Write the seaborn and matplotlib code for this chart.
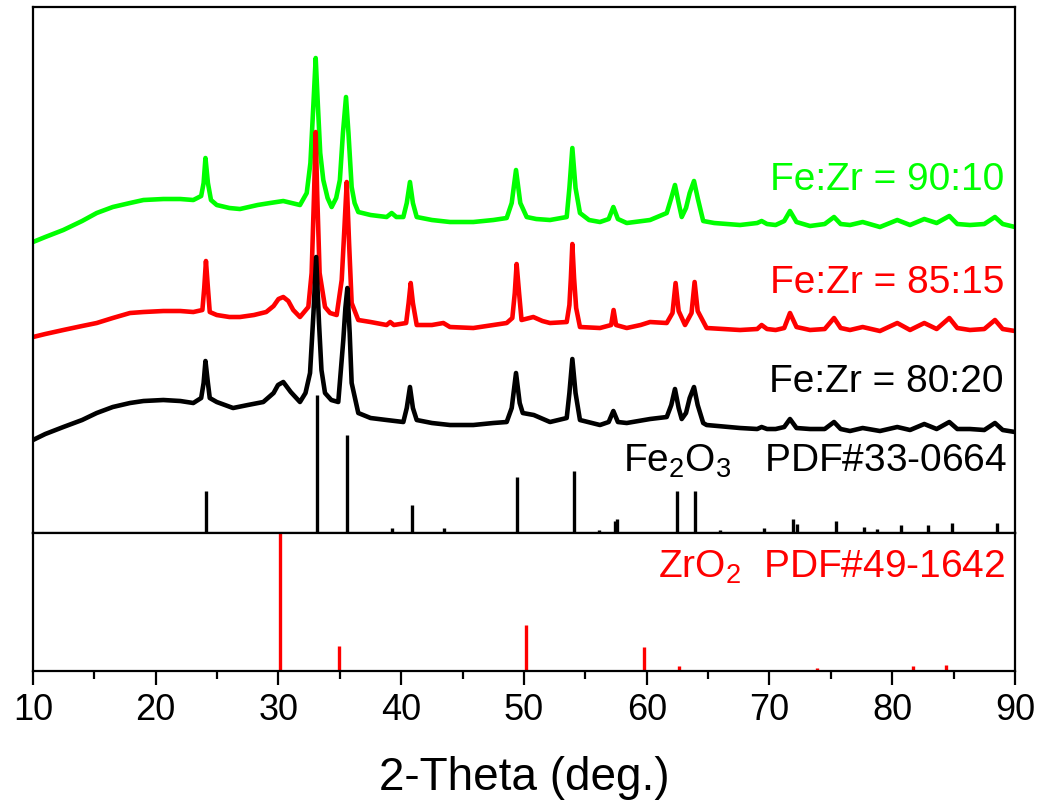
import numpy as np
import pandas as pd
import matplotlib
matplotlib.use("Agg")
import matplotlib.pyplot as plt
import seaborn as sns

# Traces (2-theta in deg., intensity in a.u., offsets included)
tt_90 = [10.0, 11.0, 12.47, 14.0, 15.19, 16.5, 17.9, 19.0, 20.62, 22.0, 23.06, 23.7, 23.9,
         24.05, 24.25, 24.5, 24.97, 26.0, 26.86, 28.3, 29.31, 30.39, 31.75, 32.3, 32.6,
         32.85, 33.03, 33.2, 33.4, 33.65, 34.0, 34.33, 34.7, 35.0, 35.25, 35.5, 35.7,
         35.96, 36.2, 36.5, 37.5, 38.81, 39.22, 39.6, 40.17, 40.45, 40.71, 40.95, 41.26,
         42.5, 43.97, 45.87, 47.5, 48.59, 49.0, 49.35, 49.7, 50.22, 51.0, 52.12, 53.48,
         53.7, 53.94, 54.2, 54.56, 55.3, 56.19, 56.9, 57.28, 57.65, 58.37, 60.27, 61.63,
         62.0, 62.3, 62.6, 62.85, 63.2, 63.5, 63.85, 64.15, 64.6, 65.5, 67.6, 69.0, 69.36,
         69.8, 70.5, 71.2, 71.67, 72.2, 73.3, 74.5, 75.26, 75.8, 76.56, 77.59, 79.0, 80.41,
         81.45, 82.61, 83.62, 84.65, 85.3, 86.33, 87.5, 88.37, 89.0, 90.0]
int_90 = [291, 296, 303, 312, 320, 326, 330, 333, 334, 334, 333, 337, 350,
          375, 350, 333, 328, 325, 324, 328, 330, 332, 328, 340, 370,
          430, 475, 430, 380, 353, 335, 326, 335, 353, 400, 436, 400,
          346, 330, 321, 318, 316, 320, 316, 316, 330, 351, 330, 316,
          313, 311, 311, 313, 315, 330, 363, 330, 316, 314, 313, 316,
          345, 385, 345, 320, 313, 311, 314, 326, 314, 310, 313, 320,
          335, 348, 330, 316, 325, 340, 352, 335, 312, 310, 308, 310, 312,
          309, 308, 312, 322, 311, 307, 309, 316, 309, 308, 311, 306, 313,
          308, 314, 310, 317, 309, 308, 309, 316, 309, 306]

tt_85 = [10.0, 11.0, 12.47, 14.0, 15.19, 16.5, 17.9, 19.0, 20.62, 22.0, 23.06, 23.8, 23.95,
         24.09, 24.25, 24.4, 24.97, 26.0, 26.86, 28.0, 29.0, 29.6, 30.0, 30.39, 30.8, 31.2,
         31.75, 32.43, 32.7, 32.9, 33.03, 33.15, 33.35, 33.79, 34.2, 34.74, 35.15, 35.35,
         35.56, 35.75, 35.96, 36.5, 37.5, 38.81, 39.1, 39.4, 40.4, 40.6, 40.77, 40.95,
         41.26, 42.5, 43.43, 43.97, 45.87, 47.5, 48.59, 49.05, 49.25, 49.4, 49.6, 49.8,
         50.76, 51.5, 52.12, 53.48, 53.7, 53.82, 53.94, 54.08, 54.25, 54.56, 56.19, 57.1,
         57.3, 57.5, 58.37, 59.5, 60.27, 61.63, 62.1, 62.35, 62.6, 63.12, 63.65, 63.9,
         64.15, 64.88, 67.6, 69.0, 69.36, 69.8, 70.5, 71.2, 71.67, 72.2, 73.3, 74.5, 75.26,
         75.8, 76.56, 77.59, 79.0, 80.41, 81.45, 82.61, 83.62, 84.65, 85.3, 86.33, 87.5,
         88.37, 89.0, 90.0]
int_85 = [196, 199, 203, 207, 210, 215, 220, 221, 222, 222, 221, 223, 245,
          272, 245, 221, 218, 216, 216, 218, 221, 227, 234, 236, 232, 223,
          216, 226, 260, 340, 401, 340, 260, 226, 220, 218, 253, 300,
          351, 290, 230, 213, 211, 208, 211, 208, 210, 230, 250, 230,
          208, 208, 210, 206, 205, 208, 210, 215, 240, 269, 240, 213,
          216, 212, 210, 211, 228, 255, 289, 255, 225, 206, 205, 208,
          223, 208, 205, 208, 211, 210, 220, 250, 222, 208, 220, 251,
          222, 205, 203, 204, 208, 204, 203, 205, 220, 206, 203, 204, 215,
          205, 203, 206, 202, 210, 203, 210, 204, 215, 205, 203, 204,
          213, 204, 202]

tt_80 = [10.0, 11.0, 12.47, 14.0, 15.19, 16.5, 17.9, 19.0, 20.62, 22.0, 23.06, 23.7, 23.9,
         24.05, 24.25, 24.4, 24.97, 26.3, 27.5, 28.76, 29.6, 29.96, 30.39, 31.0, 31.75,
         32.2, 32.57, 32.85, 33.07, 33.3, 33.5, 33.79, 34.3, 34.87, 35.28, 35.45, 35.61,
         35.8, 35.96, 36.5, 37.5, 38.81, 40.17, 40.45, 40.71, 40.95, 41.26, 42.5, 43.97,
         45.87, 47.5, 48.59, 49.0, 49.35, 49.65, 49.9, 50.8, 52.12, 53.48, 53.7, 53.94,
         54.2, 54.56, 56.19, 56.9, 57.28, 57.65, 58.37, 60.27, 61.63, 62.0, 62.3, 62.6,
         62.85, 63.2, 63.5, 63.85, 64.15, 64.6, 64.88, 67.6, 69.0, 69.36, 69.8, 70.5, 71.2,
         71.67, 72.2, 73.3, 74.5, 75.26, 75.8, 76.56, 77.59, 79.0, 80.41, 81.45, 82.61,
         83.62, 84.65, 85.3, 86.33, 87.5, 88.37, 89.0, 90.0]
int_80 = [93, 99, 106, 113, 120, 126, 130, 132, 133, 132, 130, 135, 150,
          172, 150, 135, 131, 125, 128, 131, 140, 148, 151, 141, 131,
          140, 160, 220, 276, 210, 163, 140, 133, 131, 193, 225, 245,
          200, 150, 120, 115, 113, 111, 125, 146, 125, 113, 110, 108,
          108, 110, 111, 125, 160, 130, 120, 118, 111, 115, 140, 174,
          140, 113, 108, 111, 122, 111, 110, 114, 116, 128, 144, 125,
          114, 120, 135, 146, 128, 110, 108, 105, 104, 106, 104, 104, 106,
          114, 105, 104, 104, 111, 104, 102, 105, 102, 106, 103, 109,
          104, 111, 104, 104, 103, 110, 103, 101]

# Reference patterns (stick positions and heights)
fe2o3_pos = [24.1, 33.15, 35.6, 39.25, 40.85, 43.5, 49.45, 54.05, 56.15, 57.4, 57.6,
             62.45, 63.95, 66.0, 69.55, 71.9, 72.25, 75.45, 77.7, 78.75, 80.7, 82.95,
             84.9, 88.55]
fe2o3_int = [42, 138, 98, 5, 28, 5, 56, 62, 3, 12, 14,
             42, 42, 3, 5, 14, 9, 12, 6, 4, 8, 8, 10, 10]

zro2_pos = [30.15, 34.95, 50.2, 59.75, 62.6, 73.85, 81.7, 84.35]
zro2_int = [138, 25, 46, 24, 5, 3, 5, 6]

samples = ["Fe:Zr = 90:10", "Fe:Zr = 85:15", "Fe:Zr = 80:20"]
colors = ["#00ff00", "#ff0000", "#000000"]

sns.set_theme(style="ticks")
plt.rcParams['font.family'] = ['Liberation Sans', 'DejaVu Sans']
plt.rcParams['mathtext.fontset'] = 'custom'
plt.rcParams['mathtext.rm'] = 'Liberation Sans'
plt.rcParams['mathtext.it'] = 'Liberation Sans'
plt.rcParams['text.color'] = 'black'
plt.rcParams['axes.labelcolor'] = 'black'
plt.rcParams['xtick.color'] = 'black'

frames = []
for name, tt, ii in zip(samples, [tt_90, tt_85, tt_80], [int_90, int_85, int_80]):
    frames.append(pd.DataFrame({"two_theta": tt, "intensity": ii, "sample": name}))
df = pd.concat(frames, ignore_index=True)

fig = plt.figure(figsize=(10.41, 8.06), dpi=100)
ax1 = fig.add_axes([0.0317, 0.3387, 0.9433, 0.6526])
ax2 = fig.add_axes([0.0317, 0.1675, 0.9433, 0.1712])

# green, red, black drawn in that order (black on top)
sns.lineplot(data=df, x="two_theta", y="intensity", hue="sample", hue_order=samples,
             palette=colors, linewidth=3.3, sort=False, estimator=None, legend=False, ax=ax1)

ax1.vlines(fe2o3_pos, 0, fe2o3_int, colors="black", linewidth=2.4)
ax2.vlines(zro2_pos, 0, zro2_int, colors="red", linewidth=2.4)

ax1.set_xlim(10, 90)
ax1.set_ylim(0, 526)
ax2.set_xlim(10, 90)
ax2.set_ylim(0, 138)

for ax in (ax1, ax2):
    ax.set_yticks([])
    ax.set_ylabel("")
    for s in ax.spines.values():
        s.set_linewidth(1.6)
        s.set_color("black")

ax1.set_xticks([])
ax1.set_xlabel("")

ax2.set_xticks(np.arange(10, 91, 10))
ax2.set_xticks(np.arange(15, 90, 10), minor=True)
ax2.tick_params(axis="x", which="major", direction="out", length=10, width=1.6,
                labelsize=26, pad=6)
ax2.tick_params(axis="x", which="minor", direction="out", length=5.5, width=1.6)
ax2.set_xlabel("2-Theta (deg.)", fontsize=33, labelpad=20)

# curve labels
label_y = [353, 250, 151]
for name, c, y in zip(samples, colors, label_y):
    ax1.text(89.1, y, name, color=c, fontsize=28, ha="right", va="center")

ax1.text(89.35, 72, r"Fe$_2$O$_3$   PDF#33-0664", color="black", fontsize=28,
         ha="right", va="center")
ax2.text(89.2, 104, r"ZrO$_2$  PDF#49-1642", color="red", fontsize=28,
         ha="right", va="center")

fig.savefig("out.png", dpi=100)
